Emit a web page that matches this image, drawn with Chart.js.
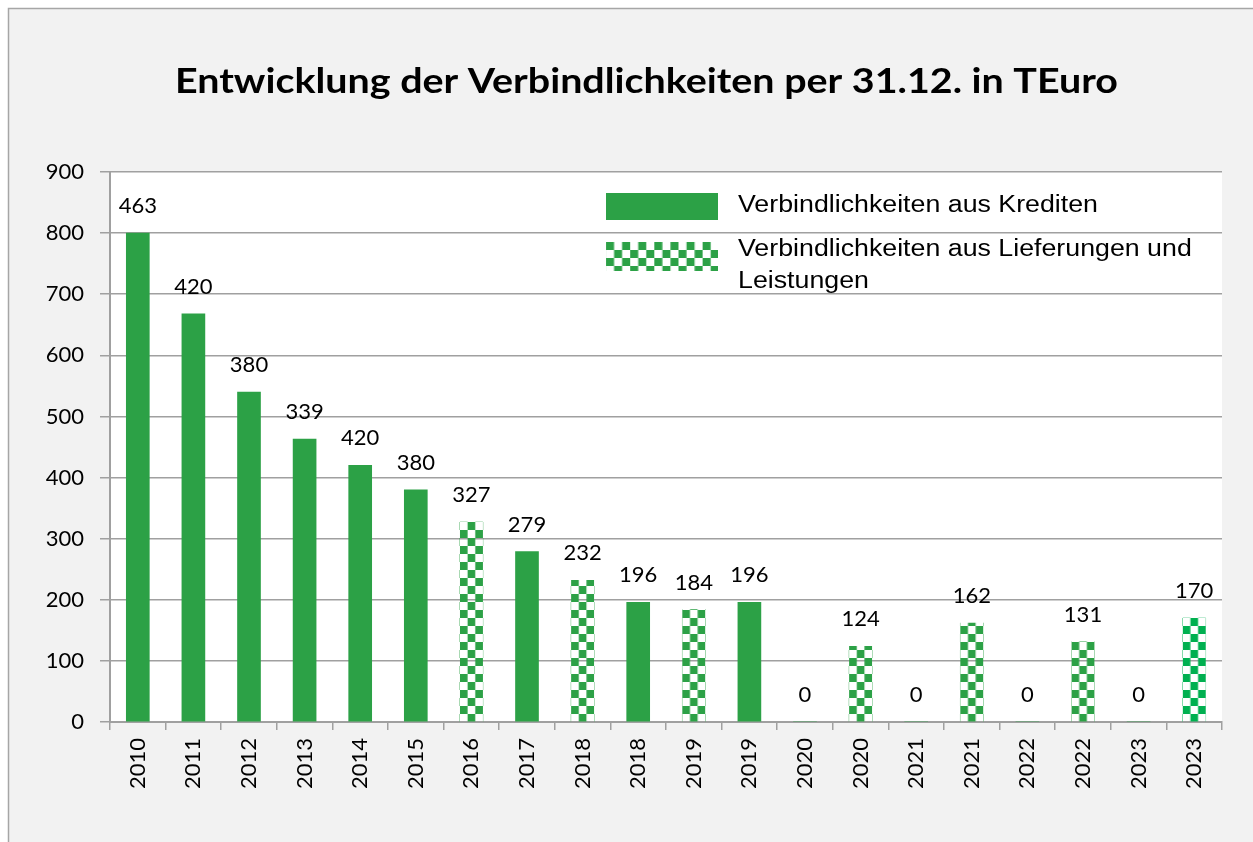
<!DOCTYPE html>
<html>
<head>
<meta charset="utf-8">
<script src="https://cdn.jsdelivr.net/npm/chart.js@4"></script>
<style>
  html, body { margin: 0; padding: 0; background: #ffffff; }
  #wrap { width: 1253px; height: 842px; }
</style>
</head>
<body>
<div id="wrap"><canvas id="chart" width="1253" height="842"></canvas></div>
<script>
// categories (years appear twice where both kinds of liabilities exist)
const years = ["2010", "2011", "2012", "2013", "2014", "2015", "2016", "2017", "2018", "2018",
  "2019", "2019", "2020", "2020", "2021", "2021", "2022", "2022", "2023", "2023"];

// bar heights as drawn
const kredite = [800, 668, 540, 463, 420, 380, null, 279, null, 196,
  null, 196, 0, null, 0, null, 0, null, 0, null];
const lieferungen = [null, null, null, null, null, null, 327, null, 232, null,
  184, null, null, 124, null, 162, null, 131, null, 170];

// printed value labels
const valueLabels = [463, 420, 380, 339, 420, 380, 327, 279, 232, 196,
  184, 196, 0, 124, 0, 162, 0, 131, 0, 170];

const yTicks = [0, 100, 200, 300, 400, 500, 600, 700, 800, 900];

const titleText = "Entwicklung der Verbindlichkeiten per 31.12. in TEuro";
const seriesNames = ["Verbindlichkeiten aus Krediten", "Verbindlichkeiten aus Lieferungen und Leistungen"];

const GREEN = "#2ca146";
const GREEN_BRIGHT = "#00b050";
const CELL_W = 23 / 3;
const CELL_H = 8;

function checkerCanvas(color) {
  const c = document.createElement("canvas");
  c.width = 46;
  c.height = 16;
  const g = c.getContext("2d");
  g.fillStyle = color;
  for (let col = 0; col < 6; col++) {
    for (let row = 0; row < 2; row++) {
      if ((col + row) % 2 === 0) {
        g.fillRect(col * CELL_W, row * CELL_H, CELL_W, CELL_H);
      }
    }
  }
  return c;
}
const checkerTiles = { normal: checkerCanvas(GREEN), bright: checkerCanvas(GREEN_BRIGHT) };

function checkerFor(context) {
  const chart = context.chart;
  if (context.type !== "data" || !chart.scales.x || !chart.chartArea) return GREEN;
  const tile = context.dataIndex === years.length - 1 ? checkerTiles.bright : checkerTiles.normal;
  const pat = chart.ctx.createPattern(tile, "repeat");
  const x = chart.scales.x.getPixelForValue(context.dataIndex) - 11.5;
  pat.setTransform(new DOMMatrix([1, 0, 0, 1, x, chart.chartArea.bottom]));
  return pat;
}

const backdrop = {
  id: "backdrop",
  beforeDraw(chart) {
    const c = chart.ctx;
    const a = chart.chartArea;
    c.save();
    c.fillStyle = "#ffffff";
    c.fillRect(0, 0, chart.width, chart.height);
    c.fillStyle = "#f2f2f2";
    c.fillRect(8, 8, chart.width, chart.height);
    c.strokeStyle = "#a6a6a6";
    c.lineWidth = 1.5;
    c.beginPath();
    c.moveTo(8.5, chart.height);
    c.lineTo(8.5, 8.5);
    c.lineTo(chart.width, 8.5);
    c.stroke();
    c.fillStyle = "#ffffff";
    c.fillRect(a.left, a.top, a.right - a.left, a.bottom - a.top);

    // title, stretched to the width of the original
    c.fillStyle = "#000000";
    c.font = "bold 35px Lato";
    c.textBaseline = "alphabetic";
    const tw = c.measureText(titleText).width;
    c.translate(175, 93);
    c.scale(943 / tw, 1);
    c.fillText(titleText, 0, 0);
    c.restore();
  }
};

const valueLabelPlugin = {
  id: "valueLabels",
  afterDatasetsDraw(chart) {
    const c = chart.ctx;
    c.save();
    c.font = "22px Lato";
    c.fillStyle = "#000000";
    c.textAlign = "center";
    c.textBaseline = "alphabetic";
    valueLabels.forEach((v, i) => {
      const di = kredite[i] !== null ? 0 : 1;
      const el = chart.getDatasetMeta(di).data[i];
      if (!el) return;
      c.fillText(String(v), el.x, el.y - 20);
    });
    c.restore();
  }
};

const legendPlugin = {
  id: "boxLegend",
  afterDraw(chart) {
    const c = chart.ctx;
    c.save();
    c.fillStyle = GREEN;
    c.fillRect(606, 193, 112, 27);
    const pat = c.createPattern(checkerTiles.normal, "repeat");
    pat.setTransform(new DOMMatrix([1.05, 0, 0, 1, 606, 242]));
    c.fillStyle = pat;
    c.fillRect(606, 242, 112, 29);

    c.fillStyle = "#000000";
    c.font = "23px 'Liberation Sans'";
    c.textBaseline = "middle";
    const sx = 360 / c.measureText(seriesNames[0]).width;
    const lines = [
      [seriesNames[0], 206],
      ["Verbindlichkeiten aus Lieferungen und", 250],
      ["Leistungen", 282]
    ];
    lines.forEach(([t, y]) => {
      c.save();
      c.translate(738, y);
      c.scale(sx, 1);
      c.fillText(t, 0, 0);
      c.restore();
    });
    c.restore();
  }
};

new Chart(document.getElementById("chart").getContext("2d"), {
  type: "bar",
  data: {
    labels: years,
    datasets: [{
      label: seriesNames[0],
      data: kredite,
      backgroundColor: GREEN,
      borderWidth: 0
    }, {
      label: seriesNames[1],
      data: lieferungen,
      backgroundColor: checkerFor,
      borderWidth: 0
    }]
  },
  options: {
    responsive: false,
    animation: false,
    layout: { padding: { left: 0, right: 31, top: 172, bottom: 0 } },
    datasets: { bar: { barThickness: 23 } },
    plugins: {
      legend: { display: false },
      tooltip: { enabled: false },
      title: { display: false }
    },
    scales: {
      x: {
        stacked: true,
        grid: { display: true, drawOnChartArea: false, drawTicks: true, tickLength: 8, color: "#a0a0a0", lineWidth: 1.5, offset: true },
        border: { color: "#a0a0a0", width: 2 },
        ticks: {
          color: "#000000",
          font: { family: "Lato", size: 22 },
          minRotation: 90,
          maxRotation: 90,
          autoSkip: false,
          padding: 8
        },
        afterFit(scale) { scale.height = 120; }
      },
      y: {
        stacked: true,
        min: 0,
        max: 900,
        afterBuildTicks(scale) { scale.ticks = yTicks.map(v => ({ value: v })); },
        grid: { color: "#a0a0a0", lineWidth: 1.5, tickLength: 10 },
        border: { color: "#a0a0a0", width: 2 },
        ticks: {
          color: "#000000",
          font: { family: "Lato", size: 22 },
          padding: 16
        },
        afterFit(scale) { scale.width = 110; }
      }
    }
  },
  plugins: [backdrop, valueLabelPlugin, legendPlugin]
});
</script>
</body>
</html>
